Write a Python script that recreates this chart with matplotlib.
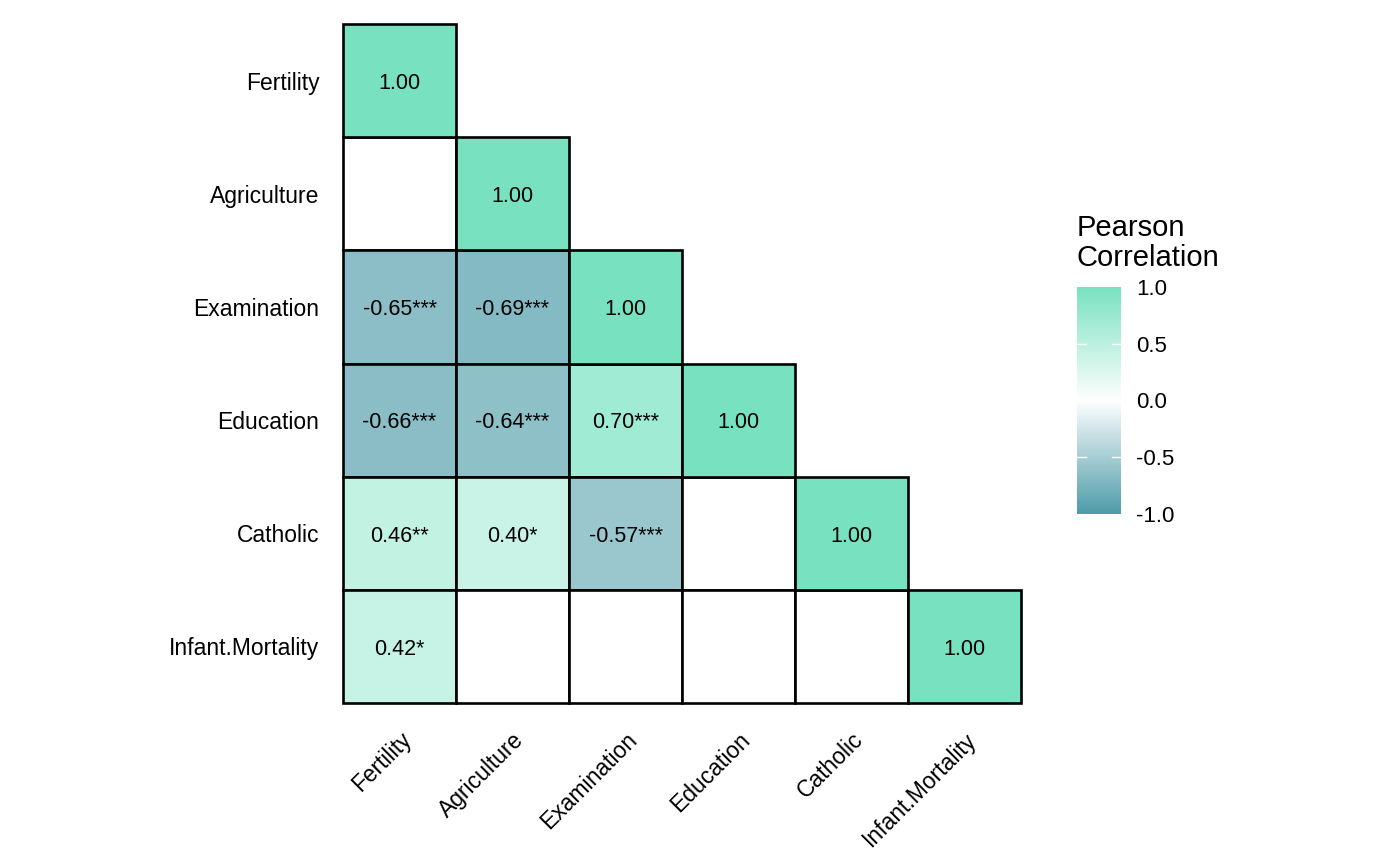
import numpy as np
import matplotlib
matplotlib.use("Agg")
import matplotlib.pyplot as plt
from matplotlib.colors import LinearSegmentedColormap, Normalize
from matplotlib.patches import Rectangle

plt.rcParams['font.family'] = ['Liberation Sans', 'DejaVu Sans']

variables = ["Fertility", "Agriculture", "Examination", "Education", "Catholic", "Infant.Mortality"]

# lower triangle of the correlation matrix (row, col, r, stars, significant)
cells = [
    (1, 0, 0.35, "", False),
    (2, 0, -0.65, "***", True),
    (2, 1, -0.69, "***", True),
    (3, 0, -0.66, "***", True),
    (3, 1, -0.64, "***", True),
    (3, 2, 0.70, "***", True),
    (4, 0, 0.46, "**", True),
    (4, 1, 0.40, "*", True),
    (4, 2, -0.57, "***", True),
    (4, 3, -0.15, "", False),
    (5, 0, 0.42, "*", True),
    (5, 1, -0.06, "", False),
    (5, 2, -0.11, "", False),
    (5, 3, -0.10, "", False),
    (5, 4, 0.17, "", False),
]
diag_value = 1.00

cmap = LinearSegmentedColormap.from_list("pc", ["#4E9CA9", "#FFFFFF", "#78E2C0"])
norm = Normalize(-1, 1)

fig = plt.figure(figsize=(14, 8.66), dpi=100)
ax = fig.add_axes([343 / 1400, 163 / 866, 678 / 1400, 679 / 866])
n = len(variables)


def draw_cell(row, col, value, label, show):
    face = cmap(norm(value)) if show else "white"
    ax.add_patch(Rectangle((col - 0.5, row - 0.5), 1, 1, facecolor=face,
                           edgecolor="black", linewidth=1.9, zorder=2, clip_on=False))
    if show:
        ax.text(col, row + 0.025, label, ha="center", va="center", fontsize=15.5, zorder=3)


for row, col, r, stars, sig in cells:
    draw_cell(row, col, r, f"{r:.2f}{stars}", sig)
for i in range(n):
    draw_cell(i, i, diag_value, f"{diag_value:.2f}", True)

ax.set_xlim(-0.5, n - 0.5)
ax.set_ylim(n - 0.5, -0.5)
ax.set_xticks(range(n))
ax.set_yticks(range(n))
ax.set_xticklabels(variables, rotation=45, ha="right", va="top",
                   rotation_mode="anchor", fontsize=16.5)
ax.set_yticklabels(variables, fontsize=16.5)
ax.tick_params(length=0, pad=18)
ax.tick_params(axis="y", pad=17)
for s in ax.spines.values():
    s.set_visible(False)

# legend
cax = fig.add_axes([1077 / 1400, (866 - 514) / 866, 44 / 1400, 227 / 866])
grad = np.linspace(-1, 1, 256).reshape(-1, 1)
cax.imshow(grad, cmap=cmap, norm=norm, aspect="auto", origin="lower",
           extent=[0, 1, -1, 1])
cax.set_xlim(0, 1)
cax.set_ylim(-1, 1)
cax.set_xticks([])
cax.yaxis.tick_right()
cax.set_yticks([-1, -0.5, 0, 0.5, 1])
cax.set_yticklabels(["-1.0", "-0.5", "0.0", "0.5", "1.0"], fontsize=16)
cax.tick_params(axis="y", length=0, pad=11)
for t in [-0.5, 0, 0.5]:
    cax.plot([0, 0.2], [t, t], color="white", lw=1)
    cax.plot([0.8, 1], [t, t], color="white", lw=1)
for s in cax.spines.values():
    s.set_visible(False)
fig.text(1077 / 1400, 1 - 214 / 866, "Pearson\nCorrelation", fontsize=21,
         ha="left", va="top", linespacing=1.1)

fig.savefig("out.png", dpi=100)
